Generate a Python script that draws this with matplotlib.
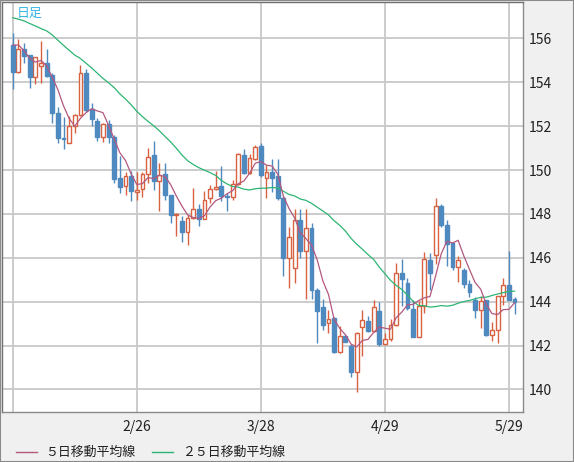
import numpy as np
import pandas as pd
import matplotlib
matplotlib.use('Agg')
from matplotlib import pyplot as plt
from matplotlib.lines import Line2D
from matplotlib.patches import Rectangle

plt.rcParams['font.family'] = ['Noto Sans CJK JP', 'DejaVu Sans']

# daily candles, 2025-01-27 .. 2025-05-30
dates = pd.bdate_range('2025-01-27', '2025-05-30')
opens = [155.70, 154.45, 155.50, 155.24, 154.26, 154.73, 154.88, 154.33, 152.59, 151.47,
         151.23, 152.00, 152.52, 154.41, 152.77, 152.23, 151.50, 152.09, 151.50, 149.64,
         149.26, 149.74, 149.00, 149.14, 149.82, 150.70, 149.48, 149.82, 148.85, 147.95,
         147.67, 147.17, 147.79, 148.23, 147.77, 148.73, 149.14, 149.29, 148.83, 148.76,
         149.36, 150.70, 149.86, 150.50, 151.10, 149.64, 149.91, 149.71, 148.73, 146.00,
         145.55, 147.74, 146.30, 147.36, 144.54, 143.75, 143.02, 143.24, 141.70, 142.44,
         141.99, 140.80, 142.86, 143.14, 142.68, 143.58, 142.07, 142.28, 142.94, 145.30,
         144.84, 143.67, 142.41, 143.81, 145.92, 146.12, 148.37, 147.50, 146.69, 145.56,
         145.44, 144.82, 144.06, 143.63, 144.06, 142.46, 142.72, 144.24, 144.78, 144.14]
highs = [156.23, 155.97, 155.77, 155.24, 155.14, 155.88, 155.50, 154.44, 152.85, 152.41,
         152.44, 152.56, 154.79, 154.59, 153.05, 152.36, 152.15, 152.30, 151.60, 150.65,
         149.89, 149.94, 149.89, 149.89, 151.00, 151.30, 150.32, 150.32, 148.88, 148.05,
         147.90, 147.95, 149.18, 148.43, 149.06, 149.33, 149.94, 150.17, 148.95, 149.56,
         150.77, 150.95, 150.74, 151.15, 151.23, 150.24, 150.50, 150.50, 148.80, 147.41,
         148.20, 148.20, 148.24, 147.59, 144.60, 144.13, 143.63, 143.30, 142.90, 142.50,
         142.05, 142.60, 143.63, 143.35, 144.08, 144.00, 142.55, 143.20, 145.76, 145.94,
         145.07, 144.08, 144.02, 146.25, 146.23, 148.72, 148.46, 147.70, 146.72, 146.07,
         145.52, 145.00, 144.21, 144.24, 144.06, 143.07, 144.24, 145.10, 146.30, 144.19]
lows = [153.68, 154.40, 154.89, 153.76, 153.90, 153.98, 154.25, 152.14, 151.23, 150.95,
        151.23, 151.68, 152.47, 152.65, 152.02, 151.30, 151.27, 151.25, 149.40, 148.95,
        148.86, 148.58, 148.65, 148.75, 149.41, 149.10, 148.12, 148.65, 147.59, 146.98,
        146.70, 146.56, 147.75, 147.44, 147.75, 148.50, 149.10, 148.60, 148.15, 148.65,
        149.30, 149.80, 149.80, 150.45, 149.67, 148.73, 148.98, 148.65, 145.17, 144.64,
        144.86, 146.00, 144.10, 144.10, 142.10, 142.71, 142.59, 141.67, 141.64, 142.15,
        140.55, 139.89, 141.54, 142.62, 142.62, 141.99, 142.03, 142.20, 142.90, 143.78,
        143.60, 142.38, 142.38, 143.47, 144.52, 145.71, 147.39, 145.62, 145.45, 144.90,
        144.64, 144.21, 143.25, 142.81, 142.43, 142.20, 142.11, 143.86, 144.06, 143.45]
closes = [154.48, 155.50, 155.21, 154.26, 155.14, 154.86, 154.30, 152.58, 151.44, 151.43,
          152.00, 152.50, 154.41, 152.74, 152.32, 151.50, 152.09, 151.50, 149.61, 149.21,
          149.74, 149.03, 149.10, 149.82, 150.59, 149.48, 149.79, 148.85, 147.97, 148.00,
          147.17, 147.79, 148.23, 147.77, 148.65, 149.14, 149.23, 148.80, 148.76, 149.36,
          150.73, 149.86, 150.55, 151.03, 149.76, 149.91, 149.64, 148.73, 146.00, 146.95,
          147.74, 146.30, 147.36, 144.53, 143.59, 142.94, 143.21, 141.70, 142.44, 142.18,
          140.80, 142.56, 143.17, 142.68, 143.75, 142.07, 142.28, 142.94, 145.30, 145.03,
          143.70, 142.41, 143.81, 145.94, 145.31, 148.37, 147.50, 146.63, 145.56, 145.92,
          144.82, 144.44, 143.63, 144.02, 142.46, 142.72, 144.24, 144.75, 144.06, 143.98]
# closes before the first visible candle (only used for the moving averages)
prior_closes = [157.1, 157.2, 157.2, 157.9, 157.9, 156.9, 157.2, 157.5, 157.3, 157.6,
                158.0, 158.3, 158.1, 157.7, 157.5, 158.0, 156.5, 155.2, 156.3, 155.6,
                155.5, 156.5, 156.0, 156.0]

grid_dates = ['2025-01-27', '2025-02-26', '2025-03-28', '2025-04-29', '2025-05-29']
grid_labels = ['', '2/26', '3/28', '4/29', '5/29']
y_ticks = [140, 142, 144, 146, 148, 150, 152, 154, 156]

UP = '#d8613f'
DOWN = '#4e89c0'
MA5_C = '#b3587f'
MA25_C = '#2db574'
GRID = '#c8c8c8'
BG = '#f0f0f0'

n = len(closes)
x = np.arange(n)
o = np.array(opens); h = np.array(highs); l = np.array(lows); c = np.array(closes)

allc = pd.Series(prior_closes + closes)
ma5 = allc.rolling(5).mean().values[len(prior_closes):]
ma25 = allc.rolling(25).mean().values[len(prior_closes):]

fig = plt.figure(figsize=(5.74, 4.62), dpi=100, facecolor=BG)
ax = fig.add_axes([1.5/574, 50/462, 521.5/574, 410.5/462])
ax.set_facecolor('white')

gx = [dates.get_loc(pd.Timestamp(d)) for d in grid_dates]
for g in gx:
    ax.axvline(g, color=GRID, lw=1.3, zorder=0)
for t in y_ticks:
    ax.axhline(t, color=GRID, lw=1.3, zorder=0)

up = c >= o
w = 0.68
ax.vlines(x[up], l[up], h[up], color=UP, lw=1, zorder=2)
ax.vlines(x[~up], l[~up], h[~up], color=DOWN, lw=1, zorder=2)
ax.bar(x[up], c[up] - o[up], bottom=o[up], width=w, facecolor='white',
       edgecolor=UP, lw=1, zorder=3)
ax.bar(x[~up], o[~up] - c[~up], bottom=c[~up], width=w, facecolor=DOWN,
       edgecolor=DOWN, lw=1, zorder=3)

ax.plot(x, ma25, color=MA25_C, lw=0.9, zorder=4)
ax.plot(x, ma5, color=MA5_C, lw=0.9, zorder=5)

ax.set_xlim(-2.0, 90.5)
ax.set_ylim(138.97, 157.68)
ax.set_xticks(gx)
ax.set_xticklabels(grid_labels, fontsize=10, color='#202020')
ax.set_yticks(y_ticks)
ax.set_yticklabels([str(t) for t in y_ticks], fontsize=10, color='#202020')
ax.yaxis.tick_right()
ax.tick_params(axis='both', length=0)
ax.tick_params(axis='y', pad=4)
ax.tick_params(axis='x', pad=6)
for s in ax.spines.values():
    s.set_color('#8a8a8a')
    s.set_linewidth(1)
ax.spines['left'].set_color('#707070')
ax.spines['top'].set_color('#707070')

ax.text(0.03, 0.988, '日足', transform=ax.transAxes, ha='left', va='top',
        fontsize=9.3, color='#35b4e6')

# legend along the bottom
fig.add_artist(Line2D([16/574, 37/574], [10/462, 10/462], color=MA5_C, lw=1))
fig.text(45/574, 10/462, '５日移動平均線', fontsize=9.3, va='center', color='#202020')
fig.add_artist(Line2D([152/574, 173/574], [10/462, 10/462], color=MA25_C, lw=1))
fig.text(182/574, 10/462, '２５日移動平均線', fontsize=9.3, va='center', color='#202020')

fig.add_artist(Rectangle((0, 0), 1, 1, transform=fig.transFigure, fill=False,
                         edgecolor='#8a8a8a', lw=1.5))

fig.savefig('out.png', dpi=100, facecolor=BG)
